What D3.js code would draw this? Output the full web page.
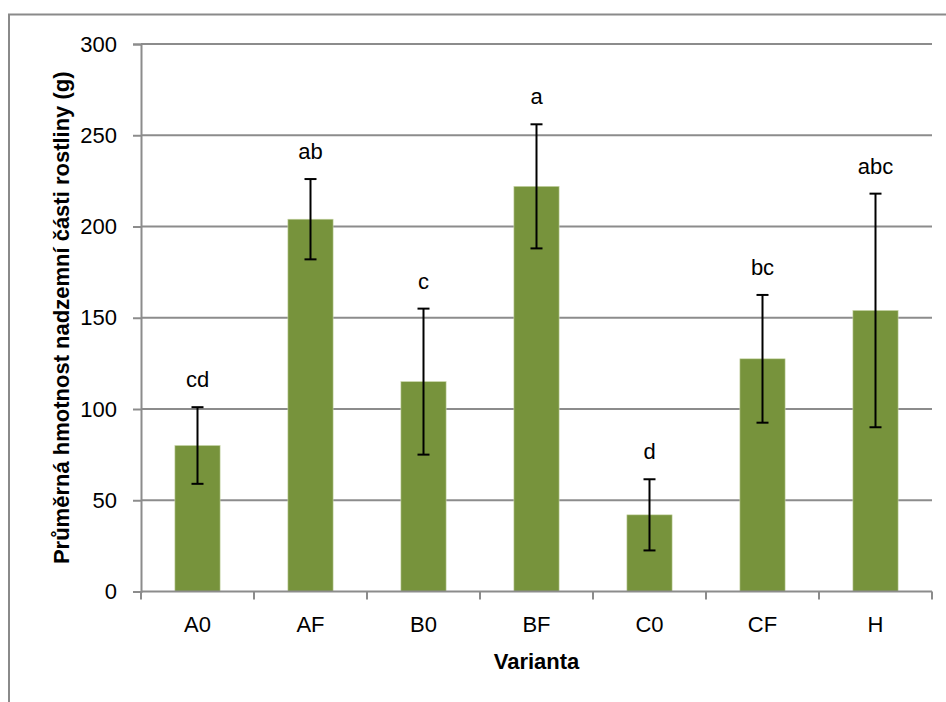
<!DOCTYPE html>
<html>
<head>
<meta charset="utf-8">
<script src="https://cdn.jsdelivr.net/npm/d3@7"></script>
<style>
  html, body { margin: 0; padding: 0; background: #fff; }
  svg text { font-family: "Liberation Sans Narrow", "Arial Narrow", "Liberation Sans", Arial, sans-serif; fill: #000; }
</style>
</head>
<body>
<div id="chart"></div>
<script>
const categories = ["A0", "AF", "B0", "BF", "C0", "CF", "H"];
const means = [80, 204, 115, 222, 42, 127.5, 154];
const errors = [21, 22, 40, 34, 19.5, 35, 64];
const letters = ["cd", "ab", "c", "a", "d", "bc", "abc"];
const yTicks = [0, 50, 100, 150, 200, 250, 300];

const width = 946;
const height = 702;
const margin = { top: 44, right: 14, bottom: 110.5, left: 141 };
const fontStack = "\"Liberation Sans Narrow\", \"Arial Narrow\", \"Liberation Sans\", Arial, sans-serif";

const svg = d3.select("#chart")
    .append("svg")
    .attr("width", width)
    .attr("height", height);

// outer frame (runs off the right and bottom edge)
svg.append("rect")
    .attr("x", 9).attr("y", 14.5)
    .attr("width", 1000).attr("height", 1000)
    .attr("fill", "none")
    .attr("stroke", "#8a8a8a")
    .attr("stroke-width", 2);

const x = d3.scaleBand()
    .domain(categories)
    .range([margin.left, width - margin.right])
    .paddingInner(0.6)
    .paddingOuter(0.3);

const y = d3.scaleLinear()
    .domain([0, 300])
    .range([height - margin.bottom, margin.top]);

const x0 = margin.left, x1 = width - margin.right;

// gridlines
svg.append("g")
    .selectAll("line")
    .data(yTicks.filter(d => d > 0))
    .join("line")
    .attr("x1", x0).attr("x2", x1)
    .attr("y1", d => y(d)).attr("y2", d => y(d))
    .attr("stroke", "#8c8c8c")
    .attr("stroke-width", 2);

// y axis
const yAxis = svg.append("g")
    .attr("transform", `translate(${x0},0)`)
    .call(d3.axisLeft(y).tickValues(yTicks).tickSize(8).tickPadding(16));
yAxis.select(".domain").attr("stroke", "#8c8c8c").attr("stroke-width", 2);
yAxis.selectAll(".tick line").attr("stroke", "#8c8c8c").attr("stroke-width", 2);
yAxis.selectAll(".tick text")
    .style("font-size", "22px")
    .style("font-family", fontStack)
    .attr("fill", "#000");

// bars
svg.append("g")
    .selectAll("rect")
    .data(categories)
    .join("rect")
    .attr("x", (d, i) => x(d))
    .attr("y", (d, i) => y(means[i]))
    .attr("width", x.bandwidth())
    .attr("height", (d, i) => y(0) - y(means[i]))
    .attr("fill", "#77933c")
    .attr("stroke", "#c9d6a8")
    .attr("stroke-width", 0.6);

// x axis
const xAxis = svg.append("g")
    .attr("transform", `translate(0,${y(0)})`)
    .call(d3.axisBottom(x).tickSize(0).tickPadding(25));
xAxis.select(".domain").remove();
xAxis.selectAll(".tick text")
    .style("font-size", "22px")
    .style("font-family", fontStack)
    .attr("fill", "#000");

svg.append("line")
    .attr("x1", x0).attr("x2", x1)
    .attr("y1", y(0)).attr("y2", y(0))
    .attr("stroke", "#8c8c8c").attr("stroke-width", 2);

// category separator ticks
const step = x.step();
svg.append("g")
    .selectAll("line")
    .data(d3.range(categories.length + 1))
    .join("line")
    .attr("x1", i => i === categories.length ? x1 : x(categories[i]) - step * 0.3)
    .attr("x2", i => i === categories.length ? x1 : x(categories[i]) - step * 0.3)
    .attr("y1", y(0)).attr("y2", y(0) + 8)
    .attr("stroke", "#8c8c8c").attr("stroke-width", 2);

// error bars
const eb = svg.append("g").attr("stroke", "#000").attr("stroke-width", 2);
categories.forEach((c, i) => {
    const cx = x(c) + x.bandwidth() / 2;
    const hi = y(means[i] + errors[i]);
    const lo = y(means[i] - errors[i]);
    eb.append("line").attr("x1", cx).attr("x2", cx).attr("y1", hi).attr("y2", lo);
    eb.append("line").attr("x1", cx - 6).attr("x2", cx + 6).attr("y1", hi).attr("y2", hi);
    eb.append("line").attr("x1", cx - 6).attr("x2", cx + 6).attr("y1", lo).attr("y2", lo);
});

// significance letters
svg.append("g")
    .selectAll("text")
    .data(categories)
    .join("text")
    .attr("x", d => x(d) + x.bandwidth() / 2)
    .attr("y", (d, i) => y(means[i] + errors[i]) - 20)
    .attr("text-anchor", "middle")
    .style("font-size", "22px")
    .text((d, i) => letters[i]);

// axis titles
svg.append("text")
    .attr("x", (x0 + x1) / 2)
    .attr("y", 669)
    .attr("text-anchor", "middle")
    .style("font-size", "22px")
    .style("font-weight", "bold")
    .text("Varianta");

svg.append("text")
    .attr("transform", `translate(69,${(y(0) + y(300)) / 2}) rotate(-90)`)
    .attr("text-anchor", "middle")
    .style("font-size", "22px")
    .style("font-weight", "bold")
    .text("Průměrná hmotnost nadzemní části rostliny (g)");
</script>
</body>
</html>
